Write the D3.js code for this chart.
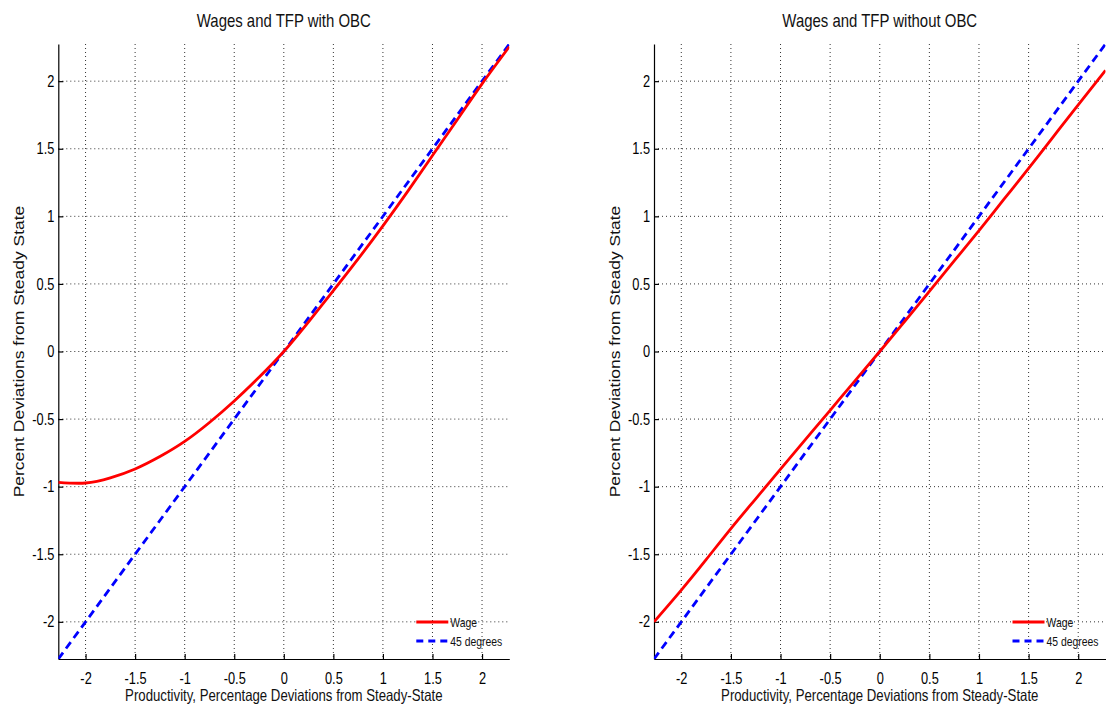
<!DOCTYPE html>
<html>
<head>
<meta charset="utf-8">
<script src="https://cdn.jsdelivr.net/npm/d3@7"></script>
<style>
body { margin: 0; background: #fff; }
svg { display: block; font-family: "Liberation Sans", Arial, sans-serif; }
</style>
</head>
<body>
<svg width="1106" height="707"></svg>
<script>

// productivity shock (x) and the wage response
var productivity = [-2.275, -2.0, -1.75, -1.5, -1.25, -1.0, -0.75, -0.5, -0.25, 0,
                    0.25, 0.5, 0.75, 1.0, 1.25, 1.5, 1.75, 2.0, 2.275];
var wageOBC = [-0.968, -0.973, -0.935, -0.869, -0.777, -0.665, -0.525, -0.366, -0.191, 0,
               0.22, 0.45, 0.685, 0.93, 1.185, 1.45, 1.715, 1.98, 2.255];
var wageNoOBC = [-2.0, -1.765, -1.54, -1.31, -1.09, -0.87, -0.652, -0.435, -0.217, 0,
                 0.222, 0.445, 0.67, 0.895, 1.125, 1.355, 1.59, 1.825, 2.08];
var degreeX = [-2.275, 2.275];
var degreeY = [-2.275, 2.275];

var tickValues = [-2, -1.5, -1, -0.5, 0, 0.5, 1, 1.5, 2];
var tickLabels = ["-2", "-1.5", "-1", "-0.5", "0", "0.5", "1", "1.5", "2"];
var titles = ["Wages and TFP with OBC", "Wages and TFP without OBC"];
var legendLabels = ["Wage", "45 degrees"];
var xTitle = "Productivity, Percentage Deviations from Steady-State";
var yTitle = "Percent Deviations from Steady State";

var svg = d3.select("svg");

var panels = [
    {title: titles[0], wage: wageOBC, left: 58.3, right: 509.3, id: "c0"},
    {title: titles[1], wage: wageNoOBC, left: 654, right: 1105.5, id: "c1"}
];
var plotTop = 44, plotBottom = 659;

panels.forEach(function(p){
    var x = d3.scaleLinear().domain([-2.275, 2.275]).range([p.left, p.right]);
    var y = d3.scaleLinear().domain([-2.275, 2.275]).range([plotBottom, plotTop]);
    var g = svg.append("g");

    g.append("clipPath").attr("id", p.id)
      .append("rect")
      .attr("x", p.left).attr("y", plotTop)
      .attr("width", p.right - p.left).attr("height", plotBottom - plotTop);

    // dotted grid
    g.append("g")
      .selectAll("line")
      .data(tickValues)
      .enter()
      .append("line")
      .attr("x1", d => x(d)).attr("x2", d => x(d))
      .attr("y1", plotTop).attr("y2", plotBottom)
      .attr("stroke", "#333")
      .attr("stroke-width", 1)
      .attr("stroke-dasharray", "1,3");
    g.append("g")
      .selectAll("line")
      .data(tickValues)
      .enter()
      .append("line")
      .attr("y1", d => y(d)).attr("y2", d => y(d))
      .attr("x1", p.left).attr("x2", p.right)
      .attr("stroke", "#333")
      .attr("stroke-width", 1)
      .attr("stroke-dasharray", "1,3");

    var fmt = function(d){ return tickLabels[tickValues.indexOf(d)]; };

    var xAxis = g.append("g")
      .attr("transform", "translate(0," + plotBottom + ")")
      .call(d3.axisBottom(x).tickValues(tickValues).tickFormat(fmt)
        .tickSizeInner(-5).tickSizeOuter(0).tickPadding(13.5));
    var yAxis = g.append("g")
      .attr("transform", "translate(" + p.left + ",0)")
      .call(d3.axisLeft(y).tickValues(tickValues).tickFormat(fmt)
        .tickSizeInner(-5).tickSizeOuter(0).tickPadding(5));

    [xAxis, yAxis].forEach(function(a){
        a.selectAll("path, line").attr("stroke", "#000").attr("stroke-width", 1.2);
        a.selectAll("text")
          .attr("fill", "#000")
          .style("font-size", "16px")
          .style("font-family", "'Liberation Sans', Arial, sans-serif")
          .attr("transform", "scale(0.8,1)");
    });

    var line = d3.line()
      .x(d => x(d[0]))
      .y(d => y(d[1]))
      .curve(d3.curveNatural);

    var plot = g.append("g").attr("clip-path", "url(#" + p.id + ")");

    plot.append("path")
      .datum(degreeX.map((d, i) => [d, degreeY[i]]))
      .attr("d", d3.line().x(d => x(d[0])).y(d => y(d[1])))
      .attr("fill", "none")
      .attr("stroke", "#0000ff")
      .attr("stroke-width", 2.8)
      .attr("stroke-dasharray", "8,5");

    plot.append("path")
      .datum(productivity.map((d, i) => [d, p.wage[i]]))
      .attr("d", line)
      .attr("fill", "none")
      .attr("stroke", "#ff0000")
      .attr("stroke-width", 2.8);

    var cx = (p.left + p.right) / 2;

    g.append("text")
      .attr("transform", "translate(" + cx + ",27) scale(0.83,1)")
      .attr("text-anchor", "middle")
      .style("font-size", "18px")
      .attr("fill", "#111")
      .text(p.title);

    g.append("text")
      .attr("transform", "translate(" + cx + ",701) scale(0.8,1)")
      .attr("text-anchor", "middle")
      .style("font-size", "16.5px")
      .attr("fill", "#111")
      .text(xTitle);

    g.append("text")
      .attr("transform", "translate(" + (p.left - 34) + "," + ((plotTop + plotBottom) / 2) + ") rotate(-90) scale(1,0.85)")
      .attr("text-anchor", "middle")
      .style("font-size", "17.5px")
      .attr("fill", "#111")
      .text(yTitle);

    // legend, no box
    var lx = p.right - 93;
    var leg = g.append("g");
    leg.selectAll("line")
      .data(legendLabels)
      .enter()
      .append("line")
      .attr("x1", lx).attr("x2", lx + 32)
      .attr("y1", (d, i) => 622 + i * 19).attr("y2", (d, i) => 622 + i * 19)
      .attr("stroke", (d, i) => i == 0 ? "#ff0000" : "#0000ff")
      .attr("stroke-width", 2.8)
      .attr("stroke-dasharray", (d, i) => i == 0 ? null : "7,5");
    leg.selectAll("text")
      .data(legendLabels)
      .enter()
      .append("text")
      .attr("transform", (d, i) => "translate(" + (lx + 34) + "," + (626.5 + i * 19) + ") scale(0.8,1)")
      .style("font-size", "13px")
      .attr("fill", "#111")
      .text(d => d);
});

</script>
</body>
</html>
